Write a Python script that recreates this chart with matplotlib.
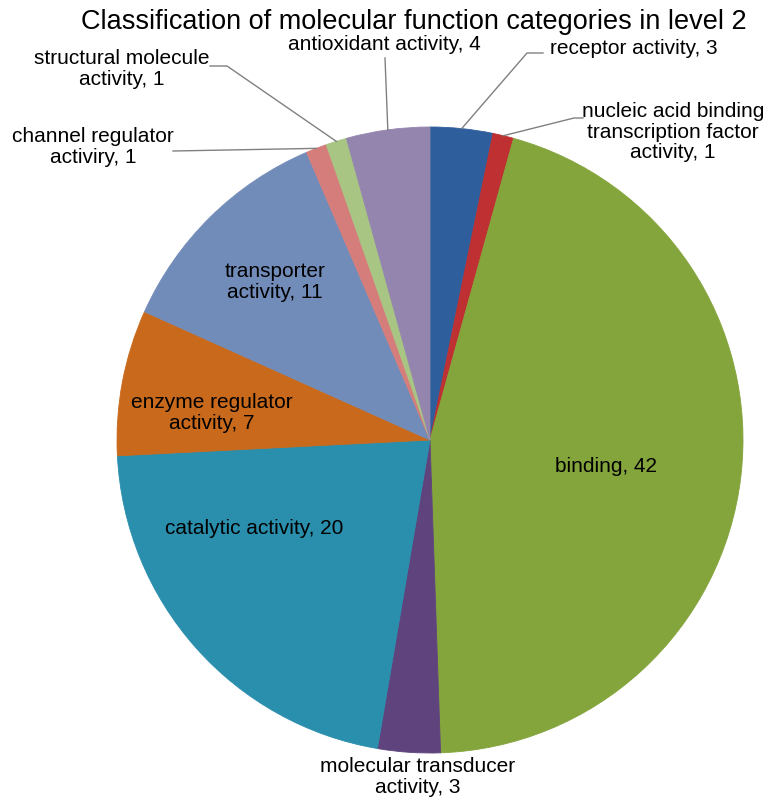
import matplotlib
matplotlib.use('Agg')
import matplotlib.pyplot as plt
import numpy as np

names = ['receptor activity', 'nucleic acid binding\ntranscription factor\nactivity', 'binding',
         'molecular transducer\nactivity', 'catalytic activity', 'enzyme regulator\nactivity',
         'transporter\nactivity', 'channel regulator\nactiviry', 'structural molecule\nactivity',
         'antioxidant activity']
counts = [3, 1, 42, 3, 20, 7, 11, 1, 1, 4]
colors = ['#2E5E9B', '#BE3031', '#84A43C', '#5E437D', '#2A8EAD', '#C8691C',
          '#728CB9', '#D57D7A', '#A8C583', '#9485AE']

plt.rcParams['font.family'] = 'Liberation Sans'

fig = plt.figure(figsize=(7.71, 8), dpi=100)
# pie centre at (430, 440) px, radius 313 px
ax = fig.add_axes([117 / 771, 47 / 800, 626 / 771, 626 / 800])
wedges, _ = ax.pie(counts, colors=colors, startangle=90, counterclock=False, radius=1.0)
for w, c in zip(wedges, colors):
    w.set_edgecolor(c)
    w.set_linewidth(0.6)
ax.set_xlim(-1, 1)
ax.set_ylim(-1, 1)
ax.set_aspect('equal')
ax.axis('off')

fig.text(414 / 771, 1 - 22 / 800, 'Classification of molecular function categories in level 2',
         ha='center', va='center', fontsize=19.5, color='black')

def px(x, y):
    return (x - 430) / 313, (440 - y) / 313

# where each label sits, and the bend of its leader
label_pos = [px(550, 48), px(673, 132), px(606, 467), px(418, 777), px(254, 529),
             px(212, 413), px(275, 282), px(93, 147), px(122, 69), px(384, 45)]
label_ha = ['left', 'center', 'center', 'center', 'center', 'center', 'center', 'center', 'center', 'center']
leaders = {0: [px(527, 53), px(543, 53)],
           1: [px(574, 118), px(583, 118)],
           7: [px(173, 151)],
           8: [px(227, 66), px(210, 66)],
           9: [px(385, 58)]}

total = sum(counts)
start = 90.0
for i, (name, n) in enumerate(zip(names, counts)):
    mid = np.radians(start - 360.0 * (n / 2) / total)
    start -= 360.0 * n / total
    if i in leaders:
        pts = [(np.cos(mid), np.sin(mid))] + leaders[i]
        xs, ys = zip(*pts)
        ax.plot(xs, ys, color='#808080', lw=1, clip_on=False)
    x, y = label_pos[i]
    ax.text(x, y, f'{name}, {n}', ha=label_ha[i], va='center', fontsize=15,
            color='black', linespacing=1.1, multialignment='center')

plt.savefig('out.png', dpi=100)
